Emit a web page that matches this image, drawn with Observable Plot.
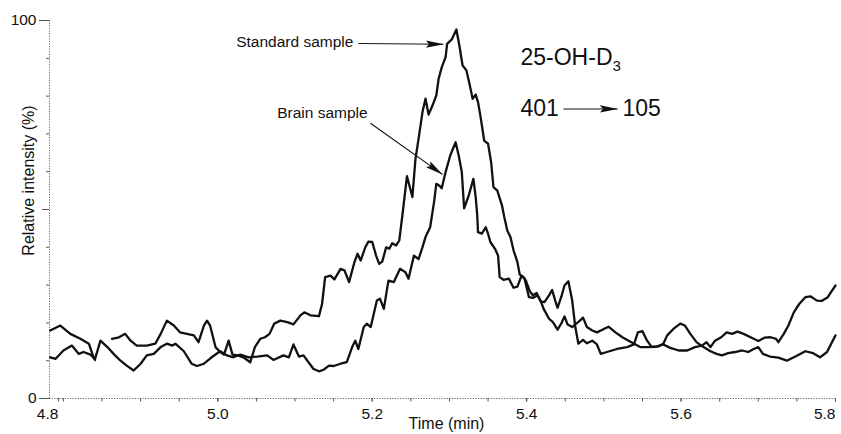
<!DOCTYPE html>
<html>
<head>
<meta charset="utf-8">
<script src="https://cdn.jsdelivr.net/npm/d3@7"></script>
<script src="https://cdn.jsdelivr.net/npm/@observablehq/plot@0.6"></script>
<style>
  html, body { margin: 0; padding: 0; background: #fff; }
  #chart { width: 841px; height: 434px; }
</style>
</head>
<body>
<div id="chart"></div>
<script>
// ---- data (time in min, relative intensity in %) ----
const standardTime = [4.783,4.796,4.809,4.822,4.833,4.839,4.841,4.856,4.863,4.872,4.880,4.887,4.895,4.908,4.919,4.926,4.934,4.943,4.951,4.960,4.969,4.975,4.982,4.986,4.990,4.997,5.003,5.008,5.014,5.019,5.026,5.033,5.042,5.048,5.055,5.061,5.067,5.073,5.081,5.090,5.098,5.107,5.112,5.120,5.131,5.135,5.139,5.146,5.151,5.159,5.164,5.170,5.177,5.181,5.185,5.191,5.195,5.200,5.205,5.209,5.213,5.218,5.222,5.226,5.231,5.235,5.239,5.245,5.252,5.256,5.260,5.265,5.269,5.273,5.278,5.283,5.286,5.290,5.295,5.297,5.303,5.309,5.313,5.317,5.322,5.326,5.330,5.334,5.337,5.340,5.343,5.345,5.350,5.354,5.357,5.362,5.368,5.371,5.375,5.379,5.383,5.388,5.391,5.395,5.399,5.404,5.408,5.413,5.418,5.423,5.429,5.433,5.437,5.440,5.445,5.449,5.454,5.459,5.463,5.467,5.473,5.478,5.485,5.491,5.496,5.504,5.517,5.530,5.539,5.544,5.550,5.556,5.562,5.571,5.577,5.582,5.590,5.599,5.605,5.612,5.620,5.629,5.638,5.646,5.653,5.661,5.670,5.679,5.687,5.694,5.700,5.706,5.715,5.726,5.737,5.748,5.761,5.771,5.780,5.789,5.800];
const standardValue = [18.0,19.3,17.1,15.8,14.5,10.9,10.2,null,15.8,16.2,17.1,15.3,14.0,14.0,14.5,17.1,20.6,19.3,17.5,17.1,16.7,14.9,19.3,20.6,19.3,13.6,12.3,11.6,15.3,11.6,11.4,10.9,9.6,13.6,15.8,16.2,17.1,19.8,20.6,20.2,19.6,22.0,22.8,22.0,21.8,25.0,32.1,32.5,31.5,34.3,33.9,30.8,36.1,38.3,36.5,40.0,41.5,41.4,37.8,35.6,36.2,40.0,39.6,41.1,40.5,41.8,48.4,58.8,53.3,63.4,68.7,75.7,79.3,75.1,77.5,80.2,84.6,87.6,90.3,93.8,95.0,97.6,93.2,88.1,86.8,83.2,79.3,80.4,78.4,74.9,70.9,68.2,67.4,62.5,55.9,55.0,51.1,48.0,44.4,42.7,39.2,36.1,32.8,32.3,31.2,28.4,27.3,27.9,25.7,25.5,27.3,28.7,25.9,24.0,27.0,29.9,31.0,25.9,18.9,14.5,15.5,14.6,15.3,14.3,11.8,12.3,13.1,13.6,14.3,17.5,17.8,15.3,13.6,13.8,14.5,16.7,18.4,19.8,19.3,17.1,14.9,13.6,12.5,11.8,11.4,12.0,12.3,12.7,12.3,13.1,13.6,11.8,11.1,10.8,10.0,11.1,12.5,12.0,10.9,12.3,16.7];

const brainTime = [4.783,4.790,4.800,4.811,4.820,4.826,4.835,4.841,4.848,4.857,4.865,4.874,4.882,4.891,4.900,4.908,4.917,4.926,4.934,4.941,4.945,4.956,4.966,4.973,4.982,4.992,5.003,5.012,5.020,5.029,5.040,5.051,5.064,5.072,5.085,5.092,5.098,5.105,5.111,5.116,5.124,5.131,5.137,5.144,5.150,5.159,5.167,5.174,5.178,5.182,5.189,5.193,5.198,5.206,5.210,5.215,5.221,5.228,5.236,5.243,5.247,5.254,5.260,5.265,5.269,5.275,5.280,5.283,5.287,5.290,5.295,5.301,5.308,5.312,5.316,5.319,5.325,5.331,5.334,5.336,5.337,5.342,5.347,5.350,5.353,5.359,5.363,5.365,5.370,5.377,5.383,5.388,5.393,5.397,5.403,5.408,5.414,5.418,5.422,5.429,5.434,5.440,5.445,5.449,5.453,5.459,5.463,5.469,5.473,5.478,5.485,5.491,5.500,5.506,5.515,5.524,5.532,5.541,5.547,5.558,5.569,5.577,5.586,5.597,5.608,5.618,5.627,5.633,5.638,5.644,5.652,5.659,5.666,5.673,5.681,5.690,5.700,5.708,5.716,5.723,5.726,5.733,5.739,5.746,5.753,5.761,5.768,5.776,5.782,5.790,5.794,5.800];
const brainValue = [10.9,10.5,12.7,14.0,11.8,12.3,11.6,10.5,15.3,13.6,11.8,10.0,8.7,7.4,9.2,11.4,11.8,13.6,14.5,14.0,14.5,12.5,9.2,8.6,9.2,10.9,12.5,11.4,10.9,11.6,10.9,11.1,11.4,10.2,11.4,10.9,14.3,11.1,11.4,10.0,7.8,7.2,7.6,8.7,8.6,9.2,9.6,13.6,15.3,13.1,18.9,19.8,18.9,25.9,26.4,23.7,31.2,30.8,34.3,33.4,31.7,37.8,36.9,40.0,42.7,45.3,51.9,56.8,56.3,55.6,59.9,64.3,67.8,64.3,59.9,50.3,53.7,58.1,53.3,48.4,44.0,43.6,45.3,43.6,41.4,39.6,37.8,32.1,31.4,31.7,29.3,29.6,32.3,31.9,26.8,26.6,27.3,25.9,23.7,21.1,20.2,18.2,19.9,21.7,19.6,18.9,19.6,20.6,21.4,18.9,18.0,17.5,18.4,19.0,17.5,16.2,15.3,14.3,13.6,13.6,13.8,14.3,13.4,12.7,12.7,13.6,14.0,14.9,13.6,15.3,16.2,17.5,17.1,17.7,17.1,16.2,15.2,16.1,16.2,15.8,14.9,17.1,19.3,22.8,25.0,26.8,27.0,25.9,25.8,26.8,28.1,29.9];

// ---- axes ----
const xDomain = [4.782, 5.8];
const yDomain = [0, 100];
const xTickLabelsInner = [5.0, 5.2, 5.4, 5.6];
const xTickLabelFirst = [4.8];
const xTickLabelLast = [5.8];
const xMinorTicks = d3.range(4.8, 5.801, 0.05);
const yLabeledTicks = [0, 100];
const yMinorTicks = [10, 20, 30, 40, 60, 70, 80, 90];
const yMidTick = [50];

// ---- annotations ----
const standardLabel = ["Standard sample"];
const standardLabelX = [5.1756];
const standardLabelY = [94.2];
const brainLabel = ["Brain sample"];
const brainLabelX = [5.1355];
const brainLabelY = [75.4];
const arrowX1 = [5.1821, 5.1977, 5.4477];
const arrowY1 = [93.9, 72.8, 76.6];
const arrowX2 = [5.2922, 5.2909, 5.5176];
const arrowY2 = [93.7, 59.3, 76.6];
const bigTexts = ["25-OH-D3", "401", "105"];
const bigX = [5.392, 5.392, 5.5241];
const bigY = [90.1, 76.6, 76.6];

const font = "'Liberation Sans', Arial, Helvetica, sans-serif";
const ink = "#111";
const fmt = d3.format(".1f");

const svg = Plot.plot({
  width: 841,
  height: 434,
  marginLeft: 49,
  marginRight: 6,
  marginTop: 20,
  marginBottom: 36,
  style: { fontFamily: font, background: "#fff", color: ink },
  x: { domain: xDomain },
  y: { domain: yDomain },
  marks: [
    Plot.ruleY([yDomain[0]], { stroke: "#666", strokeDasharray: "1.2,1.4", strokeWidth: 1 }),
    Plot.ruleX([xDomain[0]], { stroke: "#666", strokeDasharray: "1.2,1.4", strokeWidth: 1 }),
    Plot.axisX({ ticks: xMinorTicks, tickSize: 3.5, tickFormat: () => "", label: null, stroke: "#555" }),
    Plot.axisX({ ticks: xTickLabelsInner, tickSize: 3.5, tickPadding: 6, fontSize: 15.5, tickFormat: fmt, label: null, stroke: "#555", fill: ink }),
    Plot.axisX({ ticks: xTickLabelFirst, tickSize: 3.5, tickPadding: 6, fontSize: 15.5, tickFormat: fmt, label: null, stroke: "#555", fill: ink, textAnchor: "end", dx: 5 - 10 }),
    Plot.axisX({ ticks: xTickLabelLast, tickSize: 3.5, tickPadding: 6, fontSize: 15.5, tickFormat: fmt, label: null, stroke: "#555", fill: ink, textAnchor: "end" }),
    Plot.axisY({ ticks: yMinorTicks, tickSize: 3, tickFormat: () => "", label: null, stroke: "#555" }),
    Plot.axisY({ ticks: yMidTick, tickSize: 7, tickFormat: () => "", label: null, stroke: "#555" }),
    Plot.axisY({ ticks: yLabeledTicks, tickSize: 10, tickPadding: 3, fontSize: 15.5, label: null, stroke: "#555", fill: ink }),
    Plot.text(["Relative intensity (%)"], { frameAnchor: "left", textAnchor: "middle", lineAnchor: "middle", rotate: -90, dx: -21, dy: -29, fontSize: 16, fill: ink }),
    Plot.text(["Time (min)"], { frameAnchor: "bottom", textAnchor: "middle", lineAnchor: "middle", dx: 4, dy: 25, fontSize: 16, fill: ink }),
    Plot.line(standardValue, { x: standardTime, y: standardValue, stroke: ink, strokeWidth: 2.3, strokeLinejoin: "round" }),
    Plot.line(brainValue, { x: brainTime, y: brainValue, stroke: ink, strokeWidth: 2.3, strokeLinejoin: "round" }),
    Plot.link(arrowX1, { x1: arrowX1, y1: arrowY1, x2: arrowX2, y2: arrowY2, stroke: ink, strokeWidth: 1.1 }),
    Plot.text(standardLabel, { x: standardLabelX, y: standardLabelY, text: standardLabel, textAnchor: "end", fontSize: 15.5, fill: ink }),
    Plot.text(brainLabel, { x: brainLabelX, y: brainLabelY, text: brainLabel, textAnchor: "middle", fontSize: 15.5, fill: ink }),
    Plot.text(bigTexts, { x: bigX, y: bigY, text: bigTexts, textAnchor: "start", fontSize: 23, fill: ink })
  ]
});

// filled arrowheads
const root = d3.select(svg);
const defs = root.insert("defs", ":first-child");
defs.append("marker")
  .attr("id", "filled-head")
  .attr("viewBox", "0 -4 18 8")
  .attr("refX", 17.5)
  .attr("refY", 0)
  .attr("markerWidth", 18)
  .attr("markerHeight", 8)
  .attr("markerUnits", "userSpaceOnUse")
  .attr("orient", "auto")
  .append("path")
  .attr("d", "M0,-3.6L18,0L0,3.6L3,0Z")
  .attr("fill", ink);
root.selectAll('g[aria-label="link"] path').attr("marker-end", "url(#filled-head)");

// subscript in 25-OH-D3
root.selectAll("text").filter(function () { return this.textContent === "25-OH-D3"; }).each(function () {
  const t = d3.select(this);
  t.text("25-OH-D");
  t.append("tspan").attr("font-size", 15).attr("dy", "0.35em").text("3");
});

document.getElementById("chart").appendChild(svg);
</script>
</body>
</html>
